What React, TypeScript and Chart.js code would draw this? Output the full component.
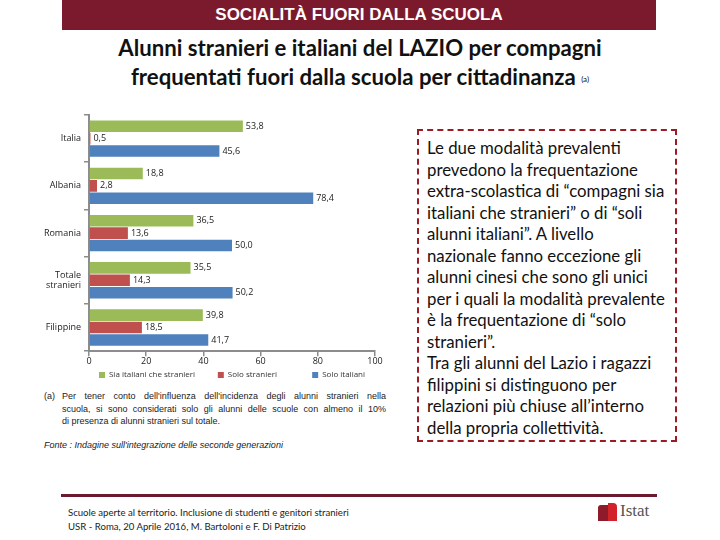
import React, { useEffect, useRef } from "react";
import { Chart, registerables } from "chart.js";

Chart.register(...registerables);

const categories: (string | string[])[] = ["Italia", "Albania", "Romania", ["Totale", "stranieri"], "Filippine"];
const seriesNames = ["Sia italiani che stranieri", "Solo stranieri", "Solo italiani"];
const siaItalianiCheStranieri = [53.8, 18.8, 36.5, 35.5, 39.8];
const soloStranieri = [0.5, 2.8, 13.6, 14.3, 18.5];
const soloItaliani = [45.6, 78.4, 50.0, 50.2, 41.7];
const seriesColors = ["#9BBB59", "#C0504D", "#4F81BD"];
const xTicks = [0, 20, 40, 60, 80, 100];

const fmt = (v: number) => v.toFixed(1).replace(".", ",");
const legendGaps = [9, 15, 0];

const labelPlugin = {
  id: "barValueLabels",
  afterDatasetsDraw(chart: any) {
    const ctx = chart.ctx;
    ctx.save();
    ctx.font = "9px 'Open Sans'";
    ctx.fillStyle = "#222";
    ctx.textBaseline = "middle";
    ctx.textAlign = "left";
    chart.data.datasets.forEach((ds: any, i: number) => {
      const meta = chart.getDatasetMeta(i);
      meta.data.forEach((bar: any, j: number) => {
        ctx.fillText(fmt(ds.data[j]), bar.x + 3, bar.y);
      });
    });
    ctx.restore();
  },
};

function BarChart() {
  const ref = useRef<HTMLCanvasElement>(null);
  useEffect(() => {
    if (!ref.current) return;
    const data = [siaItalianiCheStranieri, soloStranieri, soloItaliani];
    const chart = new Chart(ref.current, {
      type: "bar",
      data: {
        labels: categories as any,
        datasets: seriesNames.map((name, i) => ({
          label: name,
          data: data[i],
          backgroundColor: seriesColors[i],
          borderWidth: 0,
          categoryPercentage: 0.79,
          barPercentage: 0.93,
        })),
      },
      options: {
        indexAxis: "y",
        animation: false,
        responsive: false,
        maintainAspectRatio: false,
        layout: { padding: { top: 10, right: 25, left: 0, bottom: 0 } },
        scales: {
          x: {
            min: 0,
            max: 100,
            afterBuildTicks: (scale: any) => {
              scale.ticks = xTicks.map((v) => ({ value: v }));
            },
            grid: { drawOnChartArea: false, drawTicks: true, tickLength: 5, color: "#8c8c8c", lineWidth: 1.5 },
            border: { color: "#8c8c8c", width: 2 },
            ticks: { font: { family: "'Open Sans'", size: 9 }, color: "#222", padding: 0, maxRotation: 0 },
          },
          y: {
            afterFit: (scale: any) => {
              scale.width = 89;
            },
            grid: { drawOnChartArea: false, drawTicks: true, tickLength: 5, color: "#8c8c8c", lineWidth: 1.5, offset: true },
            border: { color: "#8c8c8c", width: 2 },
            ticks: { font: { family: "'Open Sans'", size: 9 }, color: "#222", padding: 3 },
          },
        },
        plugins: {
          legend: {
            position: "bottom",
            fullSize: false,
            align: "center",
            labels: {
              boxWidth: 6,
              boxHeight: 6,
              padding: 4,
              font: { family: "'Open Sans'", size: 8 },
              color: "#333",
              generateLabels: (c: any) =>
                (Chart.defaults.plugins.legend.labels as any).generateLabels(c).map((l: any, i: number) => ({
                  ...l,
                  text: l.text + " ".repeat(legendGaps[i]),
                })),
            },
          },
          tooltip: { enabled: false },
        },
      },
      plugins: [labelPlugin],
    });
    return () => chart.destroy();
  }, []);
  return <canvas ref={ref} width={400} height={284} style={{ width: 400, height: 284, display: "block" }} />;
}

export default function App() {
  const rightLines = [
    "Le due modalità prevalenti",
    "prevedono la frequentazione",
    "extra-scolastica di “compagni sia",
    "italiani che stranieri” o di “soli",
    "alunni italiani”.  A livello",
    "nazionale fanno eccezione gli",
    "alunni cinesi che sono gli unici",
    "per i quali la modalità prevalente",
    "è la frequentazione di “solo",
    "stranieri”.",
    "Tra gli alunni del Lazio i ragazzi",
    "filippini si distinguono per",
    "relazioni più chiuse all’interno",
    "della propria collettività.",
  ];
  return (
    <div style={{ position: "absolute", left: 0, top: 0, width: 720, height: 540, background: "#fff", overflow: "hidden", fontFamily: "'Open Sans', sans-serif" }}>
      <div style={{ position: "absolute", left: 62, top: 0, width: 594, height: 30, background: "#7B1A2C", color: "#fff", fontFamily: "'Liberation Sans', Arial, sans-serif", fontWeight: "bold", fontSize: 17, textAlign: "center", lineHeight: "30px" }}>
        SOCIALITÀ FUORI DALLA SCUOLA
      </div>
      <div style={{ position: "absolute", left: 0, top: 33, width: 720, textAlign: "center", fontFamily: "Lato, sans-serif", fontWeight: "bold", fontSize: 22.2, lineHeight: "29px", color: "#111" }}>
        <div>Alunni stranieri e italiani del LAZIO per compagni</div>
        <div>
          frequentati fuori dalla scuola per cittadinanza <span style={{ fontSize: 8, fontWeight: "normal", verticalAlign: "middle" }}>(a)</span>
        </div>
      </div>
      <div style={{ position: "absolute", left: 0, top: 105 }}>
        <BarChart />
      </div>
      <div style={{ position: "absolute", left: 44, top: 390, width: 342, fontFamily: "'Liberation Sans', Arial, sans-serif", fontSize: 9, lineHeight: "12.5px", color: "#222" }}>
        <div style={{ display: "flex" }}>
          <div style={{ width: 18 }}>(a)</div>
          <div style={{ flex: 1 }}>
            <div style={{ textAlign: "justify", textAlignLast: "justify" }}>Per tener conto dell'influenza dell'incidenza degli alunni stranieri nella</div>
            <div style={{ textAlign: "justify", textAlignLast: "justify" }}>scuola, si sono considerati solo gli alunni delle scuole con almeno il 10%</div>
            <div>di presenza di alunni stranieri sul totale.</div>
          </div>
        </div>
      </div>
      <div style={{ position: "absolute", left: 44, top: 440, fontFamily: "'Liberation Sans', Arial, sans-serif", fontSize: 9, fontStyle: "italic", color: "#222" }}>
        Fonte : Indagine sull'integrazione delle seconde generazioni
      </div>
      <div style={{ position: "absolute", left: 417, top: 129, width: 260, height: 313, boxSizing: "border-box", border: "2px dashed #9B1B24", padding: "6px 0 0 8px", fontFamily: "Lato, sans-serif", fontSize: 16.8, lineHeight: "21.5px", color: "#111", whiteSpace: "nowrap" }}>
        {rightLines.map((l, i) => (
          <div key={i}>{l}</div>
        ))}
      </div>
      <div style={{ position: "absolute", left: 61, top: 494, width: 596, height: 3, background: "#6B1A2E" }} />
      <div style={{ position: "absolute", left: 68, top: 506, fontFamily: "Lato, sans-serif", fontSize: 9.6, lineHeight: "14px", color: "#222" }}>
        <div>Scuole aperte al territorio. Inclusione di studenti e genitori stranieri</div>
        <div>USR - Roma, 20 Aprile 2016, M. Bartoloni e F. Di Patrizio</div>
      </div>
      <div style={{ position: "absolute", left: 598, top: 505, width: 10, height: 16, background: "#8E1B2A", borderTopLeftRadius: 3 }} />
      <div style={{ position: "absolute", left: 608, top: 503, width: 9, height: 18, background: "#D2232A", borderTopRightRadius: 4 }} />
      <div style={{ position: "absolute", left: 620, top: 501, fontFamily: "'Liberation Serif', serif", fontSize: 17, color: "#555" }}>Istat</div>
    </div>
  );
}
